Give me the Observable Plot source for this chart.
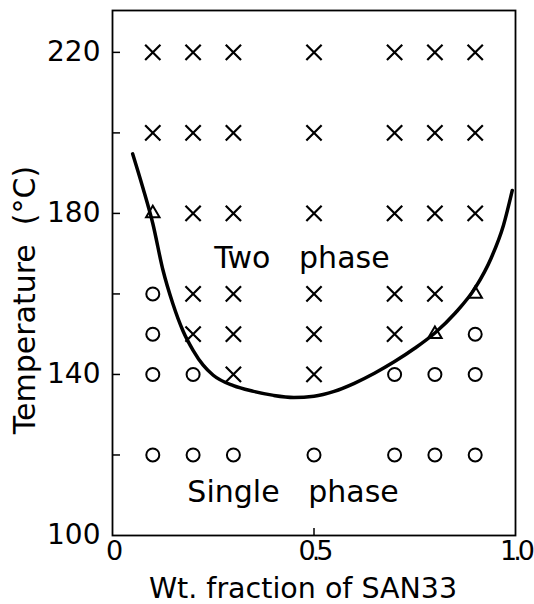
<!DOCTYPE html>
<html>
<head>
<meta charset="utf-8">
<script src="https://cdn.jsdelivr.net/npm/d3@7"></script>
<script src="https://cdn.jsdelivr.net/npm/@observablehq/plot@0.6"></script>
<style>
  html, body { margin: 0; padding: 0; background: white; }
</style>
</head>
<body>
<div id="chart"></div>
<script>
// Compositions (wt. fraction of SAN33) and temperatures (°C) of the observations
const fractions = [0.1, 0.2, 0.3, 0.5, 0.7, 0.8, 0.9];
const temperatures = [220, 200, 180, 160, 150, 140, 120];
// Observed state: x = two phase, o = single phase, t = cloud point (triangle)
const states = [
  ["x", "x", "x", "x", "x", "x", "x"],
  ["x", "x", "x", "x", "x", "x", "x"],
  ["t", "x", "x", "x", "x", "x", "x"],
  ["o", "x", "x", "x", "x", "x", "t"],
  ["o", "x", "x", "x", "x", "t", "o"],
  ["o", "o", "x", "x", "o", "o", "o"],
  ["o", "o", "o", "o", "o", "o", "o"]
];
// Binodal curve
const curveX = [0.05, 0.075, 0.1, 0.125, 0.15, 0.175, 0.2, 0.225, 0.25, 0.3, 0.35, 0.4, 0.45, 0.5, 0.55, 0.6, 0.65, 0.7, 0.75, 0.8, 0.85, 0.9, 0.94, 0.97, 0.992];
const curveT = [194.8, 186.5, 177.5, 166.0, 157.5, 150.8, 146.0, 142.3, 139.8, 137.2, 135.8, 134.8, 134.3, 134.6, 135.8, 137.8, 140.3, 143.2, 146.5, 150.3, 155.2, 161.5, 169.0, 177.0, 185.7];
const yTickLabels = [100, 140, 180, 220];
const yTicks = [120, 140, 160, 180, 200, 220];
const xTickLabels = [0, 0.5, 1.0];

const points = temperatures.flatMap((t, i) => fractions.map((f, j) => ({f, t, s: states[i][j]})));
const curve = curveX.map((f, i) => ({f, t: curveT[i]}));

const font = "DejaVu Sans";
const sp = "\u00a0\u00a0\u00a0";
const chart = Plot.plot({
  width: 534,
  height: 604,
  marginLeft: 112,
  marginRight: 19,
  marginTop: 10,
  marginBottom: 69,
  x: {domain: [0, 1]},
  y: {domain: [100, 230.4]},
  style: {fontFamily: font, color: "black", background: "white", overflow: "visible"},
  marks: [
    Plot.frame({stroke: "black", strokeWidth: 1.8}),
    Plot.axisY({ticks: yTickLabels, tickSize: 0, tickPadding: 12, fontSize: 28, label: null}),
    Plot.axisY({ticks: yTicks, tickSize: 8, dx: 8, tickFormat: () => "", label: null, strokeWidth: 1.5}),
    Plot.axisX({ticks: xTickLabels, tickSize: 0, tickPadding: 5, fontSize: 27, label: null,
      tickFormat: d => d === 0 ? "0" : d.toFixed(1)}),
    Plot.axisX({ticks: [0.5], tickSize: 7, dy: -7, tickFormat: () => "", label: null, strokeWidth: 1.5}),
    Plot.line(curve, {x: "f", y: "t", curve: "monotone-x", stroke: "black", strokeWidth: 3.5}),
    Plot.dot(points.filter(d => d.s === "x"), {x: "f", y: "t", symbol: "times", r: 7, stroke: "black", strokeWidth: 2.2}),
    Plot.dot(points.filter(d => d.s === "o"), {x: "f", y: "t", symbol: "circle", r: 6.5, stroke: "black", fill: "none", strokeWidth: 2}),
    Plot.dot(points.filter(d => d.s === "t"), {x: "f", y: "t", symbol: "triangle", r: 5, stroke: "black", fill: "none", strokeWidth: 2}),
    Plot.text(["Two" + sp + "phase"], {x: 0.47, y: 168.8, fontSize: 30, fill: "black"}),
    Plot.text(["Single" + sp + "phase"], {x: 0.448, y: 110.7, fontSize: 30, fill: "black"}),
    Plot.text(["Temperature\u00a0\u00a0(°C)"], {frameAnchor: "left", textAnchor: "middle", lineAnchor: "middle", dx: -87, dy: 27, rotate: -90, fontSize: 30, fill: "black"}),
    Plot.text(["Wt. fraction of SAN33"], {frameAnchor: "bottom", textAnchor: "middle", lineAnchor: "middle", dx: -11, dy: 53, fontSize: 28.5, fill: "black"})
  ]
});
d3.select(chart).selectAll('g[aria-label="x-axis tick label"] text').attr("letter-spacing", "-4");
document.getElementById("chart").appendChild(chart);
</script>
</body>
</html>
